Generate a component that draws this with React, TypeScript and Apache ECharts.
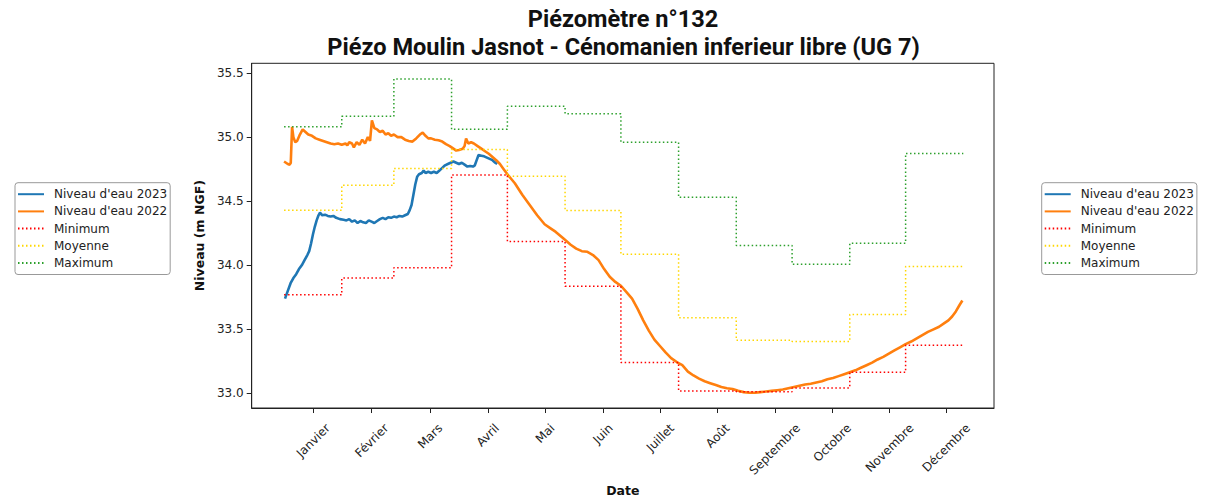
import React, { useEffect, useRef } from "react";
import * as echarts from "echarts";

// ---- data ----
const titleLine1 = "Piézomètre n°132";
const titleLine2 = "Piézo Moulin Jasnot - Cénomanien inferieur libre (UG 7)";
const monthLabels = [
  "Janvier", "Février", "Mars", "Avril", "Mai", "Juin",
  "Juillet", "Août", "Septembre", "Octobre", "Novembre", "Décembre",
];
// tick positions (day of year)
const tickDays = [15.7, 47.1, 78.5, 109.5, 140.3, 171.4, 202.2, 233.0, 263.7, 294.6, 325.4, 355.9];
// month boundaries (day of year)
const monthBounds = [0, 31, 59, 90, 120, 151, 181, 212, 243, 273, 304, 334, 365];
const yTicks = [33.0, 33.5, 34.0, 34.5, 35.0, 35.5];

const minimumValues = [33.77, 33.90, 33.98, 34.705, 34.185, 33.837, 33.241, 33.018, 33.012, 33.043, 33.165, 33.376];
const meanValues = [34.429, 34.624, 34.756, 34.903, 34.695, 34.427, 34.086, 33.591, 33.414, 33.406, 33.616, 33.99];
const maximumValues = [35.081, 35.162, 35.454, 35.061, 35.241, 35.183, 34.96, 34.53, 34.155, 34.008, 34.172, 34.873];

const level2023: [number, number][] = [
  [0.5, 33.74], [2, 33.8], [3.5, 33.86], [5, 33.9], [6.5, 33.93], [8, 33.97], [9.5, 34.0],
  [11, 34.04], [12.5, 34.08], [13.5, 34.11], [14.5, 34.17], [15.5, 34.24], [16.5, 34.3],
  [17.5, 34.35], [18.5, 34.39], [19.3, 34.41], [20.5, 34.39], [22, 34.395], [23.5, 34.385],
  [25, 34.38], [26.5, 34.385], [28, 34.37], [30, 34.36], [32, 34.355], [33.5, 34.35],
  [35, 34.36], [36.5, 34.34], [38, 34.35], [39.5, 34.33], [41, 34.345], [42.5, 34.335],
  [44, 34.33], [45.5, 34.35], [47, 34.34], [48.5, 34.33], [50, 34.345], [51.5, 34.36],
  [53, 34.37], [54.5, 34.36], [56, 34.375], [57.5, 34.37], [59, 34.38], [60.5, 34.375],
  [62, 34.385], [63.5, 34.38], [65, 34.39], [66.5, 34.4], [67.5, 34.43], [68.5, 34.47],
  [69.5, 34.55], [70.5, 34.63], [71.5, 34.69], [72.5, 34.71], [74, 34.72], [75, 34.74],
  [76, 34.72], [77.5, 34.73], [79, 34.72], [80.5, 34.73], [82, 34.72], [83.5, 34.74],
  [85, 34.76], [86.5, 34.78], [88, 34.79], [89.5, 34.8], [91, 34.81], [92.5, 34.8],
  [94, 34.79], [95.5, 34.8], [97, 34.785], [98.5, 34.77], [100, 34.775], [101.5, 34.77],
  [102.5, 34.78], [103.5, 34.82], [104.5, 34.86], [106, 34.855], [107.5, 34.85],
  [109, 34.84], [110.5, 34.83], [112, 34.82], [113.5, 34.8], [114.5, 34.79],
];

const level2022: [number, number][] = [
  [0, 34.81], [1, 34.8], [2, 34.79], [3, 34.785], [3.6, 34.8], [4.3, 35.08], [5, 35.0],
  [6, 34.96], [7, 34.97], [8.5, 35.02], [10, 35.06], [11.5, 35.04], [13, 35.02], [15, 35.01],
  [17, 34.99], [19, 34.98], [21, 34.97], [23, 34.96], [25, 34.95], [27, 34.945], [29, 34.95],
  [31, 34.94], [33, 34.95], [34, 34.935], [35, 34.96], [36.5, 34.95], [37.5, 34.92],
  [39, 34.96], [40.5, 34.94], [42, 34.98], [43.5, 34.95], [45, 35.0], [46.2, 34.97],
  [47.2, 35.13], [48.5, 35.07], [50, 35.06], [51.5, 35.04], [53, 35.05], [54.5, 35.02],
  [56, 35.03], [57.5, 35.01], [59, 35.02], [61, 35.0], [63, 35.0], [65, 34.98], [67, 34.97],
  [69, 34.965], [71, 34.99], [73, 35.02], [74.5, 35.035], [76, 35.01], [77.5, 34.99],
  [79, 34.99], [81, 34.98], [83, 34.975], [85, 34.965], [87, 34.945], [89, 34.93],
  [91, 34.91], [92.5, 34.895], [94, 34.9], [96, 34.91], [97, 34.93], [97.8, 34.99],
  [99, 34.95], [100.5, 34.96], [102, 34.95], [104, 34.93], [106, 34.91], [108, 34.89],
  [110, 34.87], [112, 34.845], [114, 34.82], [116, 34.79], [118, 34.75], [120, 34.71],
  [124, 34.64], [128, 34.55], [132, 34.47], [136, 34.39], [140, 34.32], [143, 34.29],
  [146, 34.26], [150, 34.21], [154, 34.16], [157, 34.13], [160, 34.11], [163, 34.105],
  [166, 34.08], [169, 34.04], [172, 33.97], [175, 33.91], [178, 33.87], [181, 33.84],
  [184, 33.79], [187, 33.74], [190, 33.66], [193, 33.57], [196, 33.49], [199, 33.42],
  [202, 33.37], [205, 33.32], [208, 33.275], [211, 33.245], [214, 33.22], [217, 33.17],
  [220, 33.14], [223, 33.115], [226, 33.095], [229, 33.08], [232, 33.065], [235, 33.05],
  [238, 33.04], [241, 33.035], [244, 33.02], [247, 33.01], [250, 33.005], [253, 33.005],
  [256, 33.01], [259, 33.015], [262, 33.02], [265, 33.025], [268, 33.03], [271, 33.04],
  [274, 33.05], [277, 33.06], [280, 33.07], [283, 33.075], [286, 33.085], [289, 33.095],
  [292, 33.11], [295, 33.12], [298, 33.135], [301, 33.15], [304, 33.165], [307, 33.18],
  [310, 33.2], [313, 33.22], [316, 33.24], [319, 33.265], [322, 33.285], [325, 33.31],
  [328, 33.335], [331, 33.36], [334, 33.385], [337, 33.405], [340, 33.43], [343, 33.455],
  [346, 33.48], [349, 33.5], [352, 33.52], [355, 33.55], [357, 33.57], [359, 33.6],
  [361, 33.64], [363, 33.69], [364.5, 33.725],
];

// ---- layout / style ----
const W = 1211;
const H = 502;
const GRID = { left: 251.7, right: 217, top: 63.3, bottom: 85.3 };
const X_MIN = -17.4;
const X_MAX = 381.5;
const Y_MIN = 32.886;
const Y_MAX = 35.576;
const TICK_FONT = 12;
const FONT = '"DejaVu Sans", sans-serif';
const TITLE_FONT = 'bold 23.6px Roboto, "Noto Sans", sans-serif';

const COLORS = {
  y2023: "#1f77b4",
  y2022: "#ff7f0e",
  min: "#ff0000",
  mean: "#ffd700",
  max: "#2ca02c",
};

function stepData(values: number[]): [number, number][] {
  const out: [number, number][] = [];
  values.forEach((v, i) => {
    out.push([monthBounds[i], v]);
    out.push([monthBounds[i + 1], v]);
  });
  return out;
}

function legendAt(left: number) {
  return {
    left,
    top: 182.7,
    orient: "vertical",
    itemWidth: 26,
    itemHeight: 12,
    itemGap: 5.2,
    padding: [5.5, 3, 5.5, 2],
    borderColor: "#999",
    borderWidth: 1,
    borderRadius: 3,
    backgroundColor: "#fff",
    selectedMode: false,
    itemStyle: { opacity: 0 },
    textStyle: { fontFamily: FONT, fontSize: 12, color: "#222", padding: [0, 0, 0, 5] },
    data: ["Niveau d'eau 2023", "Niveau d'eau 2022", "Minimum", "Moyenne", "Maximum"],
  };
}

export default function App() {
  const ref = useRef<HTMLDivElement>(null);
  useEffect(() => {
    if (!ref.current) return;
    const chart = echarts.init(ref.current, null, { renderer: "svg" });

    // place rotated month labels like matplotlib (center of rotated box on tick)
    const ctx = document.createElement("canvas").getContext("2d")!;
    ctx.font = `${TICK_FONT}px ${FONT}`;
    const pxPerDay = (W - GRID.left - GRID.right) / (X_MAX - X_MIN);
    const labelDays = tickDays.map(
      (d, i) => d + (0.3535 * ctx.measureText(monthLabels[i]).width) / pxPerDay
    );

    const dotted = [1.5, 2.5];

    chart.setOption({
      animation: false,
      backgroundColor: "#fff",
      graphic: [
        {
          type: "text",
          x: 623,
          y: 19,
          style: {
            text: titleLine1,
            font: TITLE_FONT,
            fill: "#111",
            align: "center",
            verticalAlign: "middle",
          },
        },
        {
          type: "text",
          x: 623.5,
          y: 47,
          style: {
            text: titleLine2,
            font: TITLE_FONT,
            fill: "#111",
            align: "center",
            verticalAlign: "middle",
          },
        },
      ],
      legend: [legendAt(15), legendAt(1041.7)],
      grid: {
        ...GRID,
        show: true,
        borderColor: "#222",
        borderWidth: 1,
        backgroundColor: "#fff",
        containLabel: false,
      },
      xAxis: {
        type: "value",
        min: X_MIN,
        max: X_MAX,
        name: "Date",
        nameLocation: "middle",
        nameGap: 65,
        nameTextStyle: { fontFamily: FONT, fontWeight: "bold", fontSize: 12.5, color: "#111" },
        splitLine: { show: false },
        axisLine: { show: true, onZero: false, lineStyle: { color: "#222", width: 1 } },
        axisTick: { show: true, customValues: tickDays, length: 5, lineStyle: { color: "#222" } },
        axisLabel: {
          customValues: labelDays,
          rotate: 45,
          margin: 18,
          fontFamily: FONT,
          fontSize: TICK_FONT,
          color: "#222",
          formatter: (v: number) => {
            let best = 0;
            labelDays.forEach((d, i) => {
              if (Math.abs(d - v) < Math.abs(labelDays[best] - v)) best = i;
            });
            return monthLabels[best];
          },
        },
      },
      yAxis: {
        type: "value",
        min: Y_MIN,
        max: Y_MAX,
        name: "Niveau (m NGF)",
        nameLocation: "middle",
        nameGap: 35,
        nameTextStyle: { fontFamily: FONT, fontWeight: "bold", fontSize: 12.5, color: "#111" },
        splitLine: { show: false },
        axisLine: { show: true, onZero: false, lineStyle: { color: "#222", width: 1 } },
        axisTick: { show: true, customValues: yTicks, length: 5, lineStyle: { color: "#222" } },
        axisLabel: {
          customValues: yTicks,
          margin: 8,
          fontFamily: FONT,
          fontSize: TICK_FONT,
          color: "#222",
          formatter: (v: number) => v.toFixed(1),
        },
      },
      series: [
        {
          name: "Niveau d'eau 2023",
          type: "line",
          data: level2023,
          showSymbol: false,
          symbol: "none",
          lineStyle: { color: COLORS.y2023, width: 2.6 },
          itemStyle: { color: COLORS.y2023 },
          z: 3,
        },
        {
          name: "Niveau d'eau 2022",
          type: "line",
          data: level2022,
          showSymbol: false,
          symbol: "none",
          lineStyle: { color: COLORS.y2022, width: 2.6 },
          itemStyle: { color: COLORS.y2022 },
          z: 4,
        },
        {
          name: "Minimum",
          type: "line",
          data: stepData(minimumValues),
          showSymbol: false,
          symbol: "none",
          lineStyle: { color: COLORS.min, width: 1.5, type: dotted },
          itemStyle: { color: COLORS.min },
          z: 5,
        },
        {
          name: "Moyenne",
          type: "line",
          data: stepData(meanValues),
          showSymbol: false,
          symbol: "none",
          lineStyle: { color: COLORS.mean, width: 1.5, type: dotted },
          itemStyle: { color: COLORS.mean },
          z: 5,
        },
        {
          name: "Maximum",
          type: "line",
          data: stepData(maximumValues),
          showSymbol: false,
          symbol: "none",
          lineStyle: { color: COLORS.max, width: 1.5, type: dotted },
          itemStyle: { color: COLORS.max },
          z: 5,
        },
      ],
    });
    return () => chart.dispose();
  }, []);
  return (
    <div
      ref={ref}
      style={{ position: "absolute", left: 0, top: 0, width: W, height: H, background: "#fff" }}
    />
  );
}
